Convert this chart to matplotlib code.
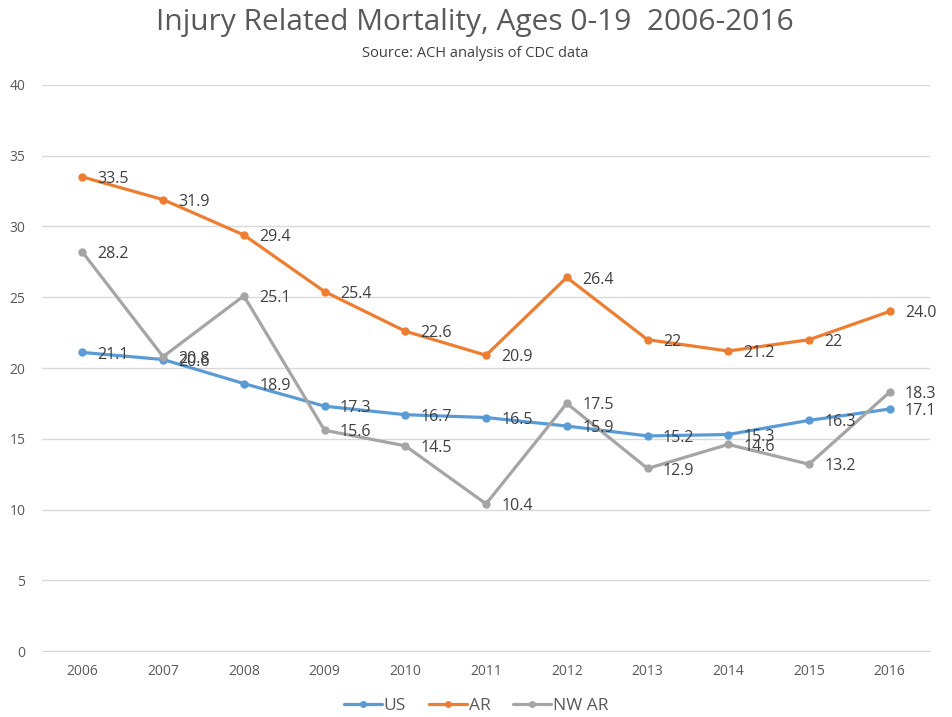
import matplotlib
matplotlib.use("Agg")
import matplotlib.pyplot as plt

years = ["2006", "2007", "2008", "2009", "2010", "2011", "2012", "2013", "2014", "2015", "2016"]
us = [21.1, 20.6, 18.9, 17.3, 16.7, 16.5, 15.9, 15.2, 15.3, 16.3, 17.1]
ar = [33.5, 31.9, 29.4, 25.4, 22.6, 20.9, 26.4, 22.0, 21.2, 22.0, 24.0]
nwar = [28.2, 20.8, 25.1, 15.6, 14.5, 10.4, 17.5, 12.9, 14.6, 13.2, 18.3]
ar_labels = ["33.5", "31.9", "29.4", "25.4", "22.6", "20.9", "26.4", "22", "21.2", "22", "24.0"]
series_names = ["US", "AR", "NW AR"]
yticks = [0, 5, 10, 15, 20, 25, 30, 35, 40]

plt.rcParams['font.family'] = ['Open Sans', 'DejaVu Sans']

fig = plt.figure(figsize=(9.52, 7.17), dpi=100)
ax = fig.add_axes([0.0441, 0.092, 0.9329, 0.7895])

colors = ["#5B9BD5", "#ED7D31", "#A5A5A5"]
x = list(range(len(years)))
data = [us, ar, nwar]
labels_all = [[f"{v:.1f}" for v in us], ar_labels, [f"{v:.1f}" for v in nwar]]

for vals, c, name in zip(data, colors, series_names):
    ax.plot(x, vals, color=c, lw=2.3, marker='o', ms=5, label=name, solid_capstyle='round', zorder=3)

for vals, labs in zip(data, labels_all):
    for xi, v, lb in zip(x, vals, labs):
        ax.annotate(lb, (xi, v), xytext=(11, -1.5), textcoords='offset points',
                    ha='left', va='center', fontsize=11.5, color='#404040', zorder=5)

ax.set_xlim(-0.5, len(years) - 0.5)
ax.set_ylim(0, 40)
ax.set_yticks(yticks)
ax.set_xticks(x)
ax.set_xticklabels(years)
ax.tick_params(axis='both', length=0, labelsize=10, colors='#595959')
ax.tick_params(axis='y', pad=12)
ax.tick_params(axis='x', pad=9)
ax.grid(axis='y', color='#D9D9D9', lw=1)
ax.set_axisbelow(True)
for s in ['top', 'right', 'left']:
    ax.spines[s].set_visible(False)
ax.spines['bottom'].set_color('#D9D9D9')

fig.text(0.499, 0.968, "Injury Related Mortality, Ages 0-19  2006-2016", ha='center', va='center',
         fontsize=21.5, color='#595959')
fig.text(0.499, 0.925, "Source: ACH analysis of CDC data", ha='center', va='center',
         fontsize=10.5, color='#404040')

leg = fig.legend(loc='center', bbox_to_anchor=(0.5, 0.016), ncol=3, frameon=False,
                 fontsize=12.5, handlelength=2.2, columnspacing=1.3, handletextpad=0.1,
                 markerscale=0.8)
for t in leg.get_texts():
    t.set_color('#595959')

fig.savefig("out.png", dpi=100)
